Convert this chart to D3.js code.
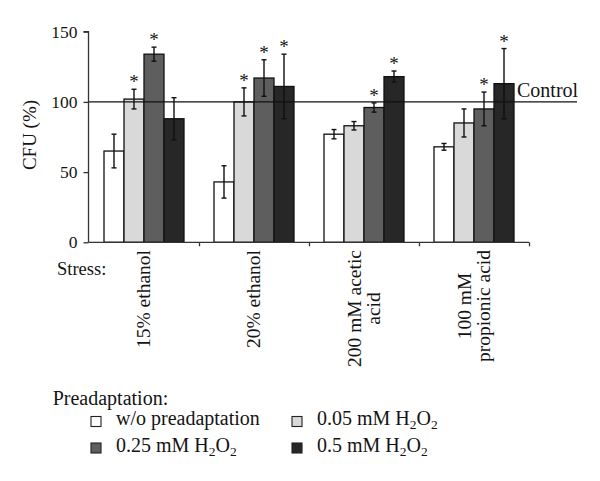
<!DOCTYPE html>
<html>
<head>
<meta charset="utf-8">
<script src="https://cdn.jsdelivr.net/npm/d3@7"></script>
<style>
  body { margin: 0; background: #fff; }
  svg { display: block; }
  text { font-family: "Liberation Serif", "Times New Roman", serif; fill: #141414; }
</style>
</head>
<body>
<svg id="chart" width="600" height="481"></svg>
<script>
// ---- data ----
const categories = [["15% ethanol"], ["20% ethanol"], ["200 mM acetic", "acid"], ["100 mM", "propionic acid"]];
const seriesNames = ["w/o preadaptation", "0.05 mM H2O2", "0.25 mM H2O2", "0.5 mM H2O2"];
const seriesColors = ["#ffffff", "#d9d9d9", "#5e5e5e", "#272727"];
const values = [
  [65, 43, 77, 68],     // w/o preadaptation
  [102, 100, 83, 85],   // 0.05 mM
  [134, 117, 96, 95],   // 0.25 mM
  [88, 111, 118, 113]   // 0.5 mM
];
const errors = [
  [12, 11.5, 3.3, 2.4],
  [7, 10, 3, 10],
  [5, 13, 3.3, 12],
  [15, 23, 4, 25]
];
const significant = [
  [false, false, false, false],
  [true, true, false, false],
  [true, true, true, true],
  [false, true, true, true]
];
const yTicks = [0, 50, 100, 150];
const controlValue = 100;

// ---- layout ----
const svg = d3.select("#chart");
const x0 = d3.scaleBand().domain(d3.range(categories.length)).range([89, 529]).padding(0);
const x1 = d3.scaleBand().domain(d3.range(seriesNames.length)).range([15, 95]).padding(0);
const y = d3.scaleLinear().domain([0, 150]).range([242.3, 31.7]);

// bars
const groups = svg.append("g").selectAll("g").data(categories).join("g")
  .attr("transform", (d, i) => `translate(${x0(i)},0)`);

groups.each(function(cat, ci) {
  const g = d3.select(this);
  seriesNames.forEach((s, si) => {
    const v = values[si][ci];
    g.append("rect")
      .attr("x", x1(si)).attr("width", x1.bandwidth())
      .attr("y", y(v)).attr("height", y(0) - y(v))
      .attr("fill", seriesColors[si]).attr("stroke", "#111").attr("stroke-width", 1.3);
  });
});

// control line
svg.append("line")
  .attr("x1", 89).attr("x2", 577).attr("y1", y(controlValue)).attr("y2", y(controlValue))
  .attr("stroke", "#111").attr("stroke-width", 1.3);

// error bars and stars
groups.each(function(cat, ci) {
  const g = d3.select(this);
  seriesNames.forEach((s, si) => {
    const v = values[si][ci], e = errors[si][ci];
    const cx = x1(si) + x1.bandwidth() / 2;
    const eb = g.append("g").attr("stroke", "#111").attr("stroke-width", 1.4);
    eb.append("line").attr("x1", cx).attr("x2", cx).attr("y1", y(v + e)).attr("y2", y(v - e));
    eb.append("line").attr("x1", cx - 2.5).attr("x2", cx + 2.5).attr("y1", y(v + e)).attr("y2", y(v + e));
    eb.append("line").attr("x1", cx - 2.5).attr("x2", cx + 2.5).attr("y1", y(v - e)).attr("y2", y(v - e));
    if (significant[si][ci]) {
      g.append("text").attr("x", cx).attr("y", y(v + e) - 1)
        .attr("text-anchor", "middle").attr("font-size", 19).text("*");
    }
  });
});

// y axis
const yAxis = svg.append("g").attr("transform", "translate(88.5,0)")
  .call(d3.axisLeft(y).tickValues(yTicks).tickSize(5).tickPadding(6));
yAxis.select(".domain").attr("stroke", "#333").attr("stroke-width", 1.3).attr("d", `M-5,${y(150)}H0V${y(0)}`);
yAxis.selectAll(".tick line").attr("stroke", "#333").attr("stroke-width", 1.3);
yAxis.selectAll(".tick text").attr("font-family", "Liberation Serif").attr("font-size", 17.5).attr("fill", "#141414");

// x axis
const xAxisScale = d3.scaleLinear().domain([0, categories.length]).range([89, 529]);
const xAxis = svg.append("g").attr("transform", `translate(0,${y(0)})`)
  .call(d3.axisBottom(xAxisScale).tickValues(d3.range(1, categories.length + 1)).tickSize(4).tickFormat(""));
xAxis.select(".domain").attr("stroke", "#333").attr("stroke-width", 1.3).attr("d", "M88.5,0H529");
xAxis.selectAll(".tick line").attr("stroke", "#333").attr("stroke-width", 1.3);

// y label
svg.append("text").attr("transform", "translate(36,135) rotate(-90)")
  .attr("text-anchor", "middle").attr("font-size", 19).text("CFU (%)");

// Stress label
svg.append("text").attr("x", 57).attr("y", 275).attr("font-size", 18.5).text("Stress:");

// category labels, rotated
categories.forEach((lines, ci) => {
  const cx = x0(ci) + x0.bandwidth() / 2;
  const t = svg.append("g");
  const texts = lines.map(l => t.append("text").attr("font-size", 19.5).attr("text-anchor", "middle").text(l));
  const maxLen = d3.max(texts, tx => tx.node().getComputedTextLength());
  const top = 250;
  const centerY = top + maxLen / 2;
  const lh = 19;
  const n = lines.length;
  texts.forEach((tx, li) => {
    const bx = cx + 6 + (li - (n - 1) / 2) * lh;
    tx.attr("transform", `translate(${bx},${centerY}) rotate(-90)`);
  });
});

// legend
svg.append("text").attr("x", 52.7).attr("y", 405).attr("font-size", 20).text("Preadaptation:");
const legendPos = [[91, 425], [292, 425], [91, 451.5], [292, 451.5]];
seriesNames.forEach((s, si) => {
  const [lx, ly] = legendPos[si];
  svg.append("rect").attr("x", lx).attr("y", ly - 8.5).attr("width", 10).attr("height", 10)
    .attr("fill", seriesColors[si]).attr("stroke", "#222").attr("stroke-width", 1.1);
  const t = svg.append("text").attr("x", lx + 25).attr("y", ly).attr("font-size", 20);
  const m = s.match(/^(.*)H2O2$/);
  if (m) {
    t.append("tspan").text(m[1] + "H");
    t.append("tspan").attr("font-size", 13.5).attr("dy", 4).text("2");
    t.append("tspan").attr("dy", -4).text("O");
    t.append("tspan").attr("font-size", 13.5).attr("dy", 4).text("2");
  } else {
    t.text(s);
  }
});

// Control label
svg.append("text").attr("x", 517).attr("y", 97.3).attr("font-size", 20).text("Control");
</script>
</body>
</html>
